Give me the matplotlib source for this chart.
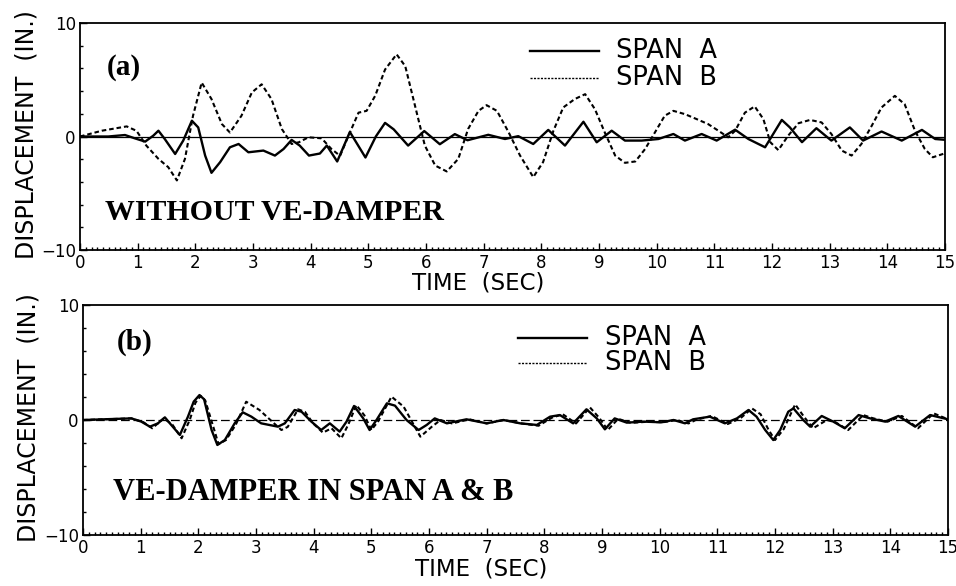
import matplotlib
matplotlib.use("Agg")
import matplotlib.pyplot as plt
from matplotlib.ticker import MultipleLocator

A_NO_DAMPER = [(0, 0), (0.49, 0), (0.78, 0.13), (0.95, -0.16), (1.13, -0.45), (1.27, 0.07),
               (1.36, 0.51), (1.47, -0.22), (1.65, -1.54), (1.79, -0.36), (1.94, 1.39),
               (2.05, 0.8), (2.17, -1.68), (2.28, -3.2), (2.43, -2.26), (2.6, -0.95),
               (2.75, -0.66), (2.92, -1.39), (3.18, -1.24), (3.38, -1.68), (3.53, -1.1),
               (3.67, -0.3), (3.81, -0.8), (3.97, -1.68), (4.16, -1.5), (4.28, -0.8),
               (4.46, -2.2), (4.68, 0.4), (4.95, -1.85), (5.13, 0.0), (5.29, 1.2),
               (5.44, 0.63), (5.69, -0.8), (5.97, 0.48), (6.24, -0.68), (6.5, 0.21),
               (6.72, -0.33), (7.08, 0.15), (7.37, -0.22), (7.6, 0.03), (7.86, -0.66),
               (8.12, 0.58), (8.41, -0.8), (8.73, 1.3), (8.96, -0.51), (9.22, 0.51),
               (9.45, -0.36), (9.74, -0.36), (10.03, -0.22), (10.29, 0.22), (10.49, -0.36),
               (10.78, 0.22), (11.04, -0.36), (11.36, 0.6), (11.59, -0.22), (11.88, -0.95),
               (12.17, 1.46), (12.31, 0.8), (12.52, -0.5), (12.77, 0.73), (13.03, -0.36),
               (13.35, 0.8), (13.58, -0.36), (13.9, 0.44), (14.25, -0.36), (14.6, 0.58),
               (14.83, -0.22), (15, -0.29)]
B_NO_DAMPER = [(0, 0), (0.38, 0.51), (0.81, 0.89), (0.98, 0.5), (1.15, -0.8), (1.36, -1.97),
               (1.53, -2.7), (1.68, -3.87), (1.82, -1.97), (1.96, 1.83), (2.11, 4.75),
               (2.28, 3.3), (2.46, 1.1), (2.6, 0.35), (2.8, 1.83), (2.98, 3.88), (3.15, 4.6),
               (3.32, 3.3), (3.5, 0.66), (3.67, -0.66), (3.8, -0.5), (3.96, -0.07),
               (4.19, -0.16), (4.36, -1.1), (4.51, -1.7), (4.65, 0), (4.83, 2.1), (4.97, 2.26),
               (5.12, 3.6), (5.29, 5.9), (5.49, 7.24), (5.64, 6.2), (5.81, 2.7), (5.98, -0.8),
               (6.16, -2.56), (6.36, -3.08), (6.56, -1.97), (6.73, 0.66), (6.91, 2.26),
               (7.05, 2.76), (7.23, 2.26), (7.43, 0.4), (7.63, -1.67), (7.86, -3.58),
               (8.03, -2.26), (8.21, 0.51), (8.38, 2.56), (8.58, 3.3), (8.76, 3.73),
               (8.93, 2.4), (9.1, 0.36), (9.28, -1.68), (9.45, -2.32), (9.63, -2.2),
               (9.8, -1.1), (9.97, 0.36), (10.14, 1.83), (10.29, 2.26), (10.49, 1.97),
               (10.69, 1.54), (10.89, 1.1), (11.07, 0.51), (11.24, -0.07), (11.36, 0.5),
               (11.53, 2.1), (11.7, 2.65), (11.85, 1.54), (11.97, -0.5), (12.11, -1.2),
               (12.28, 0.07), (12.46, 1.17), (12.66, 1.46), (12.86, 1.24), (13.03, 0.22),
               (13.21, -1.24), (13.38, -1.68), (13.55, -0.66), (13.73, 0.95), (13.9, 2.56),
               (14.13, 3.58), (14.3, 2.85), (14.48, 0.5), (14.65, -1.1), (14.79, -1.83),
               (14.97, -1.53)]
A_DAMPER = [(0, 0), (0.84, 0.14), (1.01, -0.14), (1.16, -0.58), (1.3, -0.29), (1.42, 0.23),
            (1.53, -0.43), (1.68, -1.3), (1.82, 0.29), (1.92, 1.6), (2.02, 2.17), (2.1, 1.8),
            (2.23, -0.87), (2.33, -2.17), (2.46, -1.74), (2.63, -0.29), (2.77, 0.67),
            (2.92, 0.29), (3.09, -0.29), (3.38, -0.58), (3.5, -0.29), (3.67, 0.87),
            (3.79, 0.72), (3.96, -0.14), (4.13, -0.87), (4.28, -0.29), (4.45, -1.01),
            (4.57, -0.14), (4.7, 1.22), (4.86, 0.14), (4.97, -0.87), (5.09, 0.0),
            (5.27, 1.45), (5.41, 1.25), (5.61, 0.0), (5.82, -0.87), (5.96, -0.43),
            (6.1, 0.14), (6.31, -0.29), (6.65, 0.06), (7.0, -0.29), (7.29, 0), (7.58, -0.29),
            (7.87, -0.43), (8.1, 0.29), (8.27, 0.43), (8.5, -0.29), (8.73, 0.93), (8.91, 0.14),
            (9.05, -0.81), (9.22, 0.14), (9.43, -0.23), (9.72, -0.14), (10.03, -0.2),
            (10.24, 0), (10.44, -0.29), (10.58, 0.06), (10.87, 0.29), (11.13, -0.29),
            (11.34, 0.14), (11.54, 0.87), (11.68, 0.29), (11.83, -0.87), (11.97, -1.74),
            (12.09, -0.87), (12.23, 0.72), (12.32, 1.01), (12.49, 0), (12.61, -0.58),
            (12.81, 0.35), (13.01, -0.14), (13.21, -0.72), (13.45, 0.43), (13.65, 0.14),
            (13.91, -0.14), (14.14, 0.35), (14.43, -0.58), (14.69, 0.43), (15, 0.06)]
B_DAMPER = [(0, 0), (0.84, 0.14), (1.05, -0.2), (1.2, -0.72), (1.4, 0.14), (1.55, -0.4),
            (1.71, -1.59), (1.85, 0.0), (1.95, 1.5), (2.04, 2.1), (2.12, 1.7), (2.26, -0.6),
            (2.35, -2.1), (2.48, -1.74), (2.65, -0.4), (2.83, 1.59), (3.06, 0.87),
            (3.25, 0.0), (3.44, -0.87), (3.55, -0.6), (3.73, 0.93), (3.85, 0.7),
            (3.99, -0.29), (4.16, -1.1), (4.31, -0.72), (4.48, -1.59), (4.6, -0.4),
            (4.74, 1.3), (4.88, 0.4), (5.0, -0.87), (5.12, -0.1), (5.35, 2.03), (5.56, 1.16),
            (5.7, -0.1), (5.85, -1.45), (6.05, -0.58), (6.2, 0.0), (6.4, -0.3), (6.7, 0.06),
            (7.0, -0.3), (7.3, 0.0), (7.6, -0.3), (7.9, -0.5), (8.13, 0.2), (8.32, 0.5),
            (8.55, -0.3), (8.79, 1.1), (8.95, 0.2), (9.1, -0.87), (9.28, 0.1), (9.5, -0.25),
            (9.8, -0.15), (10.05, -0.2), (10.3, 0.0), (10.5, -0.3), (10.65, 0.05),
            (10.9, 0.35), (11.18, -0.35), (11.4, 0.15), (11.6, 1.01), (11.75, 0.5),
            (11.89, -0.87), (12.0, -1.74), (12.15, -0.8), (12.35, 1.36), (12.5, 0.3),
            (12.66, -0.72), (12.9, 0.0), (13.05, -0.2), (13.27, -0.87), (13.53, 0.43),
            (13.7, 0.15), (13.95, -0.15), (14.2, 0.35), (14.48, -0.72), (14.75, 0.58),
            (15, 0.06)]

X_TICKS = list(range(0, 16))
Y_TICKS = [-10, 0, 10]
SERIES_NAMES = ["SPAN  A", "SPAN  B"]
PANEL_TAGS = ["(a)", "(b)"]
PANEL_NOTES = ["WITHOUT VE-DAMPER", "VE-DAMPER IN SPAN A & B"]

plt.rcParams.update({"font.family": "DejaVu Sans", "font.size": 12})

fig = plt.figure(figsize=(9.56, 5.86), dpi=100)
ax_a = fig.add_axes([80 / 956, 1 - 250 / 586, 865 / 956, 227 / 586])
ax_b = fig.add_axes([83 / 956, 1 - 535 / 586, 865 / 956, 230 / 586])

DASH = (0, (2.2, 1.4))
panels = [
    # ax, span A, span B, zero-line style, tag (x, y), note (x, y, size), legend (x, y1, y2), xlabel y
    (ax_a, A_NO_DAMPER, B_NO_DAMPER, "-", 0.031, 0.806, 0.029, 0.163, 21.5, 0.52, 0.877, 0.758, -0.095),
    (ax_b, A_DAMPER, B_DAMPER, (0, (7, 3)), 0.039, 0.839, 0.035, 0.183, 22, 0.503, 0.857, 0.748, -0.10),
]
for i, (ax, sa, sb, zls, tagx, tagy, notex, notey, notesz, legx, ly1, ly2, xlaby) in enumerate(panels):
    ta, va = zip(*sa)
    tb, vb = zip(*sb)
    ax.axhline(0, color="black", lw=0.9, ls=zls, zorder=1)
    ax.plot(tb, vb, color="black", lw=1.5, ls=DASH, zorder=2)
    ax.plot(ta, va, color="black", lw=1.7, zorder=3)
    ax.set_xlim(0, 15)
    ax.set_ylim(-10, 10)
    ax.set_xticks(X_TICKS)
    ax.set_yticks(Y_TICKS)
    ax.xaxis.set_minor_locator(MultipleLocator(0.1))
    ax.yaxis.set_minor_locator(MultipleLocator(2))
    ax.tick_params(which="both", direction="in", top=False, right=False,
                   labelsize=12, width=1.0)
    ax.tick_params(which="major", length=5, pad=3)
    ax.tick_params(which="minor", length=2.5)
    for s in ax.spines.values():
        s.set_linewidth(1.3)
    ax.set_xlabel("TIME  (SEC)", fontsize=16.5)
    ax.xaxis.set_label_coords(0.46, xlaby)
    # legend drawn in axes fraction
    ax.plot([legx, legx + 0.08], [ly1, ly1], color="black", lw=1.7,
            transform=ax.transAxes)
    ax.plot([legx, legx + 0.08], [ly2, ly2], color="black", lw=1.0, ls=(0, (1.5, 1)),
            transform=ax.transAxes)
    ax.text(legx + 0.1, ly1, SERIES_NAMES[0], transform=ax.transAxes, fontsize=18.5,
            va="center")
    ax.text(legx + 0.1, ly2, SERIES_NAMES[1], transform=ax.transAxes, fontsize=18.5,
            va="center")
    ax.text(tagx, tagy, PANEL_TAGS[i], transform=ax.transAxes,
            fontsize=21, fontweight="bold", family="Liberation Serif", va="center")
    ax.text(notex, notey, PANEL_NOTES[i], transform=ax.transAxes,
            fontsize=notesz, fontweight="bold", family="Liberation Serif", va="center")

fig.text(27 / 956, 0.77, "DISPLACEMENT  (IN.)", rotation=90, ha="center", va="center",
         fontsize=17)
fig.text(29 / 956, 0.287, "DISPLACEMENT  (IN.)", rotation=90, ha="center", va="center",
         fontsize=17)

fig.savefig("out.png", dpi=100)
